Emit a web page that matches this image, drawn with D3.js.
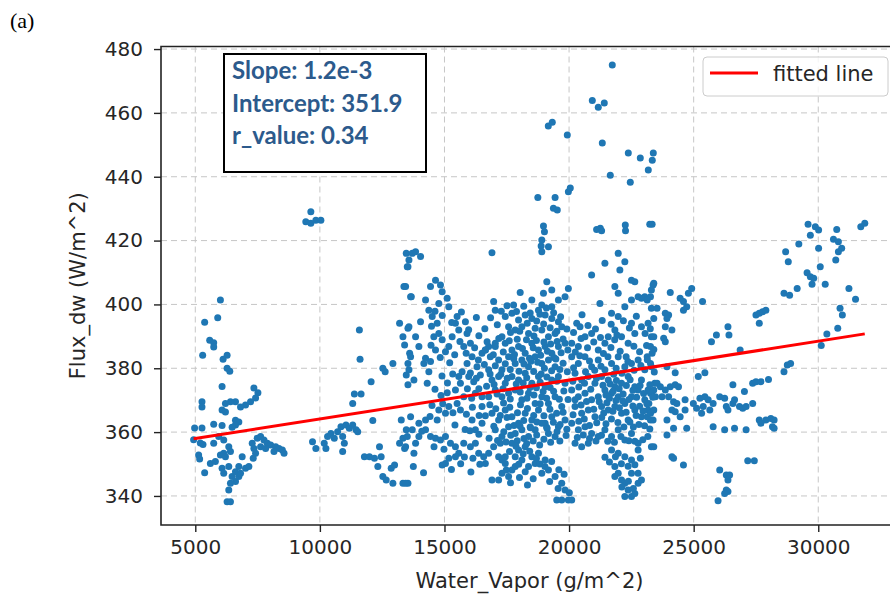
<!DOCTYPE html>
<html lang="en">
<head>
<meta charset="utf-8">
<title>Flux_dw vs Water_Vapor</title>
<script src="https://cdn.jsdelivr.net/npm/d3@7"></script>
<style>
  body { margin: 0; background: #fff; }
  text { font-family: "DejaVu Sans", sans-serif; }
</style>
</head>
<body>
<script>

// scatter points [water vapor, flux_dw], grouped by x range
var pointsLow = [
  [9637,429.0],[9435,425.9],[9637,425.4],[9839,426.4],[10040,426.4],
  [6008,401.4],[5900,395.8],[5376,394.4],[5578,388.8],[5739,388.0],[5739,386.7],[5296,384.1],[6277,384.1],[6115,382.8],[6277,380.0],[6384,379.1],[6075,374.3],
  [7352,373.8],[7513,372.3],[7419,370.7],[7218,369.5],[7016,368.5],[6815,367.9],[6613,369.5],[6411,369.5],[6210,369.0],[5269,369.5],[5269,367.9],[6075,366.9],[6210,366.3],
  [6613,363.7],[6747,363.2],[6613,362.2],[6478,361.5],[4973,361.3],[5269,361.3],[5739,362.5],[6075,362.1],[4933,357.6],[5202,356.6],[5309,356.1],[5134,352.8],[5175,351.6],[5376,347.3],
  [5605,350.2],[5806,350.8],[6008,352.8],[6142,353.4],[6344,355.4],[6411,353.9],[6210,352.3],[6075,348.7],[6142,347.1],[6344,349.2],[6478,346.1],[6613,344.5],[6411,344.0],
  [6344,341.9],[6277,338.2],[6411,338.2],[6747,349.2],[6882,352.3],[6747,346.1],[6613,347.6],[7016,348.7],[7150,349.2],[6815,347.1],
  [7285,356.5],[7486,358.1],[7621,358.6],[7755,357.5],[7890,356.5],[8024,356.0],[8226,355.4],[8360,354.9],[8494,354.4],[8562,353.4],[7352,354.9],[7621,355.4],[7822,354.9],
  [8158,353.9],[7419,353.4],[7325,351.8],[5739,356.5],[5940,358.6],[6142,357.5],
  [9704,357.0],[9838,354.9],[10174,356.5],[10309,358.6],[10443,359.6],[10578,358.1],[10712,360.1],[10846,361.7],[11048,362.2],[11182,361.2],[11317,362.2],[11451,360.7],
  [10914,358.6],[10981,356.5],[10914,353.9],[10242,354.9],
  [11585,392.0],[11612,382.8],[11384,371.9],[11653,371.9],[11317,369.0],[11518,360.1],[12056,375.8],[12526,380.0],[12930,381.5],[12620,378.9],[12123,363.6],
  [11787,352.3],[11989,352.3],[12190,351.8],[12392,355.4],[12459,352.3],[12325,349.2],[12526,346.1],[12661,345.0],[12862,348.7],[12997,349.7],[12930,344.0],[13333,344.0],[13534,344.0]
];

var pointsMid = [
  [13198,394.1],[13467,416.0],[13534,411.8],[13373,405.6],[13669,402.4],[13534,392.5],[13333,389.9],[13400,387.3],[13602,384.7],[13534,381.5],[13467,377.9],[13534,374.8],
  [13266,363.8],[13467,360.7],[13333,358.1],[13198,356.5],[13400,354.9],
  [18746,433.5],[19439,433.5],[19972,435.3],[19372,430.1],[18972,424.6],[19012,422.8],[18906,420.2],[18879,418.3],[18906,416.5],[19172,418.1],[16906,416.2],
  [13707,416.0],[13840,416.5],[14040,415.0],[13574,413.9],[13507,411.8],[13440,405.6],
  [19166,455.9],[19326,457.1],[19929,453.1],[19527,429.6],
  [13640,402.4],[14040,394.6],[13574,393.0],[13840,389.9],[13973,386.8],[13640,383.6],[13574,379.5],[13774,376.3],[14240,383.1],[14440,382.1],[14373,378.9],[14173,381.5],
  [14307,375.3],[14640,385.7],[14573,389.9],[14707,394.1],[14773,390.9],[14507,396.2],[14373,398.2],[14240,401.4],[14440,405.6],[14640,407.6],[14840,406.1],[14907,404.0],
  [14773,400.3],[15173,399.3],[15107,401.9],
  [15507,396.2],[15440,394.1],[15840,394.6],[15573,392.0],[15906,390.9],[16040,387.8],[15773,386.8],[15173,386.8],[15040,385.2],[15307,389.9],[14907,388.9],[16106,383.6],
  [15906,381.5],[15707,378.9],[15573,377.4],[15640,375.3],[15440,373.2],[15973,377.4],[16306,380.5],[16506,384.7],[16640,385.7],[16773,386.8],[17039,387.8],[16840,383.6],
  [16440,377.9],[16173,375.8],[16240,372.2],[16506,371.1],[15773,371.1],[15507,369.0],[15173,368.0],[15040,365.9],[14773,366.9],[14707,363.8],[14240,363.8],[13973,362.8],
  [13640,364.8],[13707,360.7],[13973,358.6],[13507,358.6],
  [14240,360.7],[14440,358.6],[14640,358.1],[14840,357.5],[15040,358.6],[15240,356.5],[15440,355.4],[15573,353.4],[15773,356.5],[16040,355.4],[16240,356.5],[16373,353.4],
  [16573,352.3],[16773,353.4],[16973,355.4],[16640,350.2],[15040,350.2],[14907,349.7],[15173,351.8],[15440,352.3],[13440,355.4],[13774,353.4],[13440,344.0],[16906,345.0],
  [17173,345.0],[17306,347.1],[17573,346.1],[17706,348.1],[17839,349.2],[17439,350.2],[17306,351.3],[17173,352.3],[13840,356.5],
  [18039,403.7],[18506,401.4],[18972,403.5],[19306,404.5],[19572,401.4],[19106,407.1],[19972,405.0],[19839,402.4],[16973,400.9],[17773,399.8],[18906,399.8],[19306,399.3],
  [17039,398.2],[17439,396.2],[17706,397.2],[17973,395.1],[18239,396.7],[18506,395.6],[18772,398.2],[19039,396.7],[19306,395.6],[19572,394.6],[17573,393.0],[17839,392.0],
  [18106,393.0],[18373,390.9],[18639,392.5],[18906,392.0],[19172,389.9],[19439,390.9],[19706,393.0],[17306,389.9],
  [16640,385.7],[17039,386.8],[17439,387.8],[17706,385.7],[17973,386.8],[18239,384.7],[18506,387.8],[18772,385.7],[19039,386.8],[19306,384.7],[19572,386.8],[19839,387.8],
  [17173,382.6],[17573,383.6],[17839,381.5],[18106,382.6],[18373,380.5],[18639,383.6],[18906,381.5],[19172,382.6],[19439,380.5],[16773,379.5],[17306,379.5],
  [16906,376.3],[17173,377.4],[17439,375.3],[17706,377.4],[17973,376.3],[18239,378.4],[18506,375.3],[18772,377.4],[19039,374.2],[19306,376.3],[19572,377.4],[19839,375.3],
  [17039,373.2],[17306,371.1],[17573,372.2],[17839,373.2],[18106,370.1],[18373,372.2],[18639,369.0],[18906,371.1],[19172,369.0],[19439,371.1],[19706,368.0],[16773,371.1],[16506,368.0],
  [16906,365.9],[17173,363.8],[17439,366.9],[17706,364.8],[17973,362.8],[18239,365.9],[18506,363.8],[18772,366.9],[19039,362.8],[19306,364.8],[19572,361.7],[19839,363.8],
  [17039,360.7],[17306,358.6],[17573,361.7],[17839,359.6],[18106,360.7],[18373,358.6],[18639,360.7],[18906,362.8],[19172,359.6],[19439,358.6],[16506,362.8],[16106,363.8],[16240,360.7],
  [17706,356.5],[17973,354.4],[18239,355.4],[18506,352.3],[18772,353.4],[18106,351.3],[17839,352.3],[18373,349.2],[18639,350.2],[18906,347.1],[19172,348.1],[19439,346.1],
  [19706,344.0],[19839,341.9],[19972,338.7],[19506,338.7],[19706,338.7],[19039,351.3],[17439,352.3],[17240,356.5]
];

// extra points filling the dense middle cloud
var pointsMidDense = [
  [16620,392.4],[16850,395.8],[17120,393.6],[17280,397.9],[17510,399.6],[17650,391.2],[17890,397.8],[18020,391.6],[18180,399.4],[18320,394.1],[18440,397.3],[18590,390.1],
  [18700,394.8],[18830,396.9],[18980,393.9],[19090,398.9],[19240,392.7],[19380,397.4],[19510,391.6],[19660,396.1],[19760,389.2],[19910,392.3],
  [16710,388.3],[16960,384.2],[17180,389.3],[17360,385.1],[17600,388.6],[17810,384.3],[17920,389.1],[18130,386.2],[18290,388.9],[18410,383.1],[18560,386.4],[18690,388.7],
  [18860,384.1],[18990,388.2],[19130,385.3],[19260,387.6],[19390,383.4],[19520,388.4],[19680,384.9],[19950,385.7],
  [16600,381.2],[16830,378.2],[17040,380.8],[17260,378.1],[17440,381.4],[17640,379.6],[17780,383.0],[17990,379.1],[18190,381.3],[18300,377.0],[18470,382.2],[18580,379.0],
  [18740,381.9],[18880,378.2],[19010,380.0],[19110,377.3],[19300,379.2],[19470,382.9],[19630,379.6],[19760,381.6],[19930,378.9],
  [16690,374.4],[16990,374.9],[17110,371.9],[17350,373.6],[17520,376.9],[17640,370.4],[17880,375.1],[18040,372.6],[18160,375.4],[18310,370.6],[18430,374.0],[18590,371.6],
  [18690,373.9],[18840,375.6],[18960,372.7],[19100,370.6],[19240,374.0],[19380,372.8],[19510,375.9],[19610,370.3],[19790,372.9],[19960,370.2],
  [16640,365.1],[16820,368.6],[17060,367.3],[17240,365.2],[17370,369.1],[17510,364.6],[17620,367.8],[17790,362.1],[17930,366.1],[18050,368.6],[18180,363.6],[18330,367.4],
  [18440,361.6],[18580,365.2],[18710,363.2],[18840,368.9],[18990,365.1],[19100,361.5],[19230,367.2],[19370,363.1],[19500,365.9],[19640,362.4],[19760,366.2],[19910,360.9],
  [16790,358.1],[16980,361.8],[17130,357.4],[17380,360.1],[17470,356.9],[17660,359.0],[17920,357.3],[18030,361.9],[18190,358.0],[18300,356.4],[18450,361.4],[18560,357.2],
  [18700,359.1],[18820,356.0],[18990,357.8],[19120,361.1],[19260,356.8],[19520,360.2],[19630,357.2],[19880,358.9],
  [17610,353.9],[17870,355.6],[18160,353.2],[18420,354.0],[18690,351.7],[18830,350.0],[19030,349.2],[19300,350.8],[19590,348.2],[19800,346.8],[17480,348.1],[17980,349.9],
  [18240,347.6],[18560,345.4],[17650,344.1],[18010,345.8],[18330,343.4],[19220,344.5],[19560,342.3],[20010,341.0],
  [14480,393.2],[14620,397.9],[14910,396.5],[15290,394.3],[15680,397.6],[15970,392.1],[16280,395.9],[16380,390.2],[14460,387.2],[14830,383.4],[15210,381.7],[15410,384.2],
  [15620,388.4],[15870,384.7],[16210,386.4],[16360,382.6],[14900,377.6],[15120,375.4],[15330,378.2],[16040,378.5],[16280,376.9],[14620,373.4],[14860,371.5],[15110,372.3],
  [15920,373.6],[16090,370.6],[16380,373.6],[14500,368.3],[14930,368.9],[15340,366.1],[15640,366.9],[15880,365.6],[16120,367.8],[16390,365.2],[14420,364.9],[15420,362.2],
  [15830,360.8],[16020,360.4],[16380,359.3],[14090,360.3],[14580,355.4],[14980,354.6],[15800,352.2],[16140,351.8],[16420,349.9],[13750,349.2],[14160,347.3],[15280,348.3],
  [15650,350.1],[16060,347.5]
];

var pointsHigh = [
  [20106,338.7],
  [20306,394.1],[20439,393.0],[20106,387.8],[20372,386.8],[20639,389.9],[20905,390.9],[21172,385.7],[21438,387.8],[21572,389.9],[21838,392.0],[22105,389.9],[22371,387.8],
  [22638,390.9],[22905,393.0],[23171,394.1],[23304,389.9],[21972,396.2],[21705,397.2],[22238,399.3],[22505,401.4],[22771,402.4],[23038,402.4],[23304,404.5],[21238,400.3],
  [21972,403.5],[21838,405.6],[20905,409.2],[21438,412.9],[21972,416.0],[22238,413.4],[22038,410.8],[22505,407.6],[22638,407.1],[23371,406.1],[22905,401.9],[23304,398.8],[22505,394.1],
  [20106,383.6],[20372,381.5],[20639,383.6],[20905,380.5],[21172,382.6],[21438,379.5],[21705,381.5],[21972,383.6],[22238,380.5],[22505,381.5],[22771,382.6],[23038,379.5],[23304,380.5],
  [20239,378.4],[20506,376.3],[20772,377.4],[21038,375.3],[21305,377.4],[21572,376.3],[21838,374.2],[22105,375.3],[22371,377.4],[22638,374.2],[22905,376.3],[23171,373.2],[23438,375.3],
  [20106,373.2],[20372,371.1],[20639,372.2],[20905,370.1],[21172,371.1],[21438,373.2],[21705,372.2],[21972,371.1],[22238,369.0],[22505,371.1],[22771,373.2],[23038,370.1],[23304,372.2],
  [20239,368.0],[20506,365.9],[20772,366.9],[21038,364.8],[21305,368.0],[21572,366.9],[21838,368.0],[22105,365.9],[22371,363.8],[22638,366.9],[22905,364.8],[23171,366.9],[23371,363.8],
  [20106,362.8],[20372,360.7],[20639,361.7],[20905,359.6],[21172,358.6],[21438,360.7],[21705,358.6],[21972,360.7],[22238,357.5],[22505,359.6],[22771,356.5],[23304,355.4],
  [20239,356.5],[20506,355.4],[20772,356.5],[21705,354.4],[21972,353.4],[22238,352.3],[22505,351.3],[22771,354.4],
  [21838,349.2],[21972,347.1],[22105,345.0],[22238,344.0],[22371,341.9],[22505,339.8],[22638,340.8],[22771,344.0],[22905,345.0],[22238,339.8],[21838,346.1],[22505,347.1],[22771,347.1],
  [20932,463.9],[21172,461.8],[21413,463.1],[21734,475.0],[21333,450.6],[22377,447.4],[22858,445.9],[23380,447.4],[23339,445.2],[22457,438.3],[23179,442.1],[21654,440.5],
  [20049,436.5],[21253,423.9],[22256,424.9],[21105,423.5],[21305,423.1],[22265,423.1],[23238,425.1],
  [23333,425.1],[23399,406.6],[23267,402.4],[23135,401.4],[24061,403.7],[24458,401.9],[24590,400.9],[24788,403.5],[24921,405.0],[24722,399.3],[24590,398.2],
  [23531,398.8],[23399,395.6],[23862,397.2],[23995,396.7],[23928,395.6],[23862,393.0],[24127,392.0],[23399,389.9],[23267,386.8],[23796,389.4],[23862,388.3],[23333,384.7],
  [23135,383.6],[23267,381.5],[24259,378.6],[23928,380.5],
  [23531,375.3],[23664,374.2],[23862,373.2],[24061,374.2],[24259,374.8],[24392,374.2],[23399,373.2],[23267,372.2],[23201,369.0],[23465,371.1],[23730,371.1],[23995,371.1],
  [24193,369.5],[24325,369.0],[24127,366.9],[24259,366.4],[24458,364.8],[24656,370.1],[24656,366.9],[23399,366.9],[23267,363.8],[23135,364.8],[23928,363.8],[24193,361.2],
  [23928,359.1],[24722,361.2],[23399,355.4],[24127,352.3],[24193,351.8],[24590,349.7],[24987,369.0]
];

// extra points filling the dense cloud right of 20000
var pointsHighDense = [
  [20180,391.2],[20520,396.8],[20760,393.4],[21060,392.3],[21330,395.0],[21690,393.8],[21920,390.4],[22180,394.9],[22420,392.6],[22700,396.3],[23050,390.9],[23260,392.4],
  [20250,385.1],[20480,389.3],[20740,386.4],[20990,388.2],[21260,389.6],[21380,384.6],[21680,386.5],[21830,388.9],[22050,385.3],[22290,383.6],[22600,386.9],[22830,385.2],
  [23110,387.1],[23400,385.9],
  [20180,380.2],[20430,383.9],[20660,378.9],[20820,382.3],[21030,379.4],[21280,380.6],[21560,383.6],[21790,378.1],[21890,380.0],[22120,378.4],[22360,382.1],[22610,379.4],
  [22880,380.9],[23140,382.7],[23420,378.8],
  [20150,375.9],[20390,374.1],[20620,375.3],[20870,373.4],[21100,376.9],[21360,374.7],[21480,371.6],[21650,375.1],[21770,372.9],[21900,376.2],[22010,373.6],[22170,371.9],
  [22300,374.6],[22450,376.4],[22560,373.1],[22710,370.9],[22850,374.6],[22990,372.1],[23240,374.8],[23360,370.9],
  [20240,370.1],[20480,368.5],[20700,369.6],[20990,367.2],[21210,369.5],[21390,366.0],[21520,369.2],[21620,370.6],[21760,366.5],[21880,369.9],[22020,367.6],[22150,369.8],
  [22290,366.2],[22400,370.2],[22560,368.2],[22690,365.2],[22830,368.1],[22970,366.6],[23120,368.9],[23270,365.9],
  [20160,365.4],[20390,363.4],[20610,364.1],[20820,362.1],[21110,362.9],[21310,364.6],[21480,362.6],[21700,364.1],[21960,363.0],[22200,361.6],[22440,363.2],[22580,361.6],
  [22800,362.4],[23030,362.0],[23240,361.0],
  [20330,358.3],[20570,359.1],[20820,358.0],[21080,357.2],[21300,359.0],[21550,357.1],[21820,356.8],[22080,358.6],[22400,357.3],[22640,357.1],[22960,357.6],[23160,358.6],
  [21440,352.1],[21620,350.6],[21860,352.3],[22100,350.1],[22370,349.3],[22640,349.8],[22860,351.8],[22120,342.8],[22380,344.6],[22580,342.3]
];

var pointsFar = [
  [25357,400.9],[25185,377.4],[25450,378.6],
  [25251,370.6],[25450,371.1],[25582,370.1],[25384,368.0],[25648,366.9],[25781,369.0],[26045,371.1],[26244,370.6],[26310,368.0],[26376,366.9],[26574,369.0],[26641,370.1],
  [26839,368.0],[26971,367.5],[27104,368.0],[27368,369.0],[25119,367.5],[25318,365.9],[25781,361.7],[26244,360.7],[26641,361.2],[27104,360.7],[26574,374.8],[27037,372.7],
  [27368,375.3],[27500,375.8],[27699,375.8],[28003,376.5],[27633,363.8],[27897,363.8],[28096,364.3],[28228,363.8],[27699,362.8],[28162,361.7],[28228,361.2],
  [25714,388.3],[25913,390.4],[26376,393.0],[26416,390.4],[26865,385.7],
  [27500,396.7],[27633,397.2],[27765,397.7],[27897,398.2],[27633,394.1],
  [27170,351.0],[27434,351.0],
  [26045,348.1],[26310,346.6],[26442,346.6],[26376,345.0],[26310,341.9],[26376,341.4],[26244,340.8],[25979,338.5],
  [28625,378.9],[28757,381.0],[28890,381.5],[28691,416.5],[28797,413.4],[28625,403.5],[28850,402.9],[29154,405.0],[29220,418.9],[29591,425.1],[29683,421.7],[29882,424.3],
  [30014,423.3],[30014,417.6],[30080,411.8],[29551,409.9],[29683,408.7],[29816,408.2],[29750,406.3],[30279,406.3],[30742,423.5],[30610,420.4],[30808,419.6],[30940,417.6],
  [30808,416.5],[30702,413.9],[31231,405.0],[31496,401.6],[31707,424.3],[31866,425.4],[30874,398.8],[30967,396.7],[30782,392.5],[30345,390.7],[30120,387.1]
];

var xTicks = [5000, 10000, 15000, 20000, 25000, 30000];
var yTicks = [340, 360, 380, 400, 420, 440, 460, 480];
var fitSlope = 1.22e-3;
var fitIntercept = 351.9;
var statLines = ["Slope: 1.2e-3", "Intercept: 351.9", "r_value: 0.34"];

var points = pointsLow.concat(pointsMid, pointsMidDense, pointsHigh, pointsHighDense, pointsFar);

var w = 890, h = 599;
var plot = {left: 161, right: 898, top: 46.5, bottom: 525};

var svg = d3.select("body")
  .append("svg")
  .attr("width", w)
  .attr("height", h);

var xScale = d3.scaleLinear()
  .domain([3624, 33200])
  .range([plot.left, plot.right]);

var yScale = d3.scaleLinear()
  .domain([330.9, 480.8])
  .range([plot.bottom, plot.top]);

svg.append("clipPath")
  .attr("id", "plotclip")
  .append("rect")
  .attr("x", plot.left)
  .attr("y", plot.top)
  .attr("width", plot.right - plot.left)
  .attr("height", plot.bottom - plot.top);

// grid
svg.append("g")
  .selectAll("line")
  .data(xTicks)
  .enter()
  .append("line")
  .attr("x1", function(d) { return xScale(d); })
  .attr("x2", function(d) { return xScale(d); })
  .attr("y1", plot.top)
  .attr("y2", plot.bottom)
  .attr("stroke", "#c6c6c6")
  .attr("stroke-width", 1)
  .attr("stroke-dasharray", "6,4");

svg.append("g")
  .selectAll("line")
  .data(yTicks)
  .enter()
  .append("line")
  .attr("x1", plot.left)
  .attr("x2", plot.right)
  .attr("y1", function(d) { return yScale(d); })
  .attr("y2", function(d) { return yScale(d); })
  .attr("stroke", "#c6c6c6")
  .attr("stroke-width", 1)
  .attr("stroke-dasharray", "6,4");

// points
svg.append("g")
  .attr("clip-path", "url(#plotclip)")
  .selectAll("circle")
  .data(points)
  .enter()
  .append("circle")
  .attr("cx", function(d) { return xScale(d[0]); })
  .attr("cy", function(d) { return yScale(d[1]); })
  .attr("r", 3.5)
  .attr("fill", "#1f77b4");

// fitted line
var xExtent = d3.extent(points, function(d) { return d[0]; });
svg.append("line")
  .attr("x1", xScale(xExtent[0]))
  .attr("y1", yScale(fitIntercept + fitSlope * xExtent[0]))
  .attr("x2", xScale(xExtent[1]))
  .attr("y2", yScale(fitIntercept + fitSlope * xExtent[1]))
  .attr("stroke", "red")
  .attr("stroke-width", 3);

// axes
var xAxis = d3.axisBottom(xScale)
  .tickValues(xTicks)
  .tickSize(7)
  .tickPadding(8)
  .tickFormat(d3.format("d"));

var yAxis = d3.axisLeft(yScale)
  .tickValues(yTicks)
  .tickSize(7)
  .tickPadding(11);

svg.append("g")
  .attr("class", "x axis")
  .attr("transform", "translate(0," + plot.bottom + ")")
  .call(xAxis);

svg.append("g")
  .attr("class", "y axis")
  .attr("transform", "translate(" + plot.left + ",0)")
  .call(yAxis);

svg.selectAll(".axis .domain").remove();
svg.selectAll(".axis line").attr("stroke", "#222").attr("stroke-width", 1.4);
svg.selectAll(".axis text")
  .attr("font-family", "DejaVu Sans")
  .attr("font-size", "20px")
  .attr("fill", "#262626");

// spines
svg.append("path")
  .attr("d", "M" + plot.right + "," + plot.top + "H" + plot.left + "V" + plot.bottom + "H" + plot.right)
  .attr("fill", "none")
  .attr("stroke", "#222")
  .attr("stroke-width", 1.6);

// axis labels
svg.append("text")
  .attr("x", (plot.left + plot.right) / 2)
  .attr("y", 588)
  .style("text-anchor", "middle")
  .attr("font-size", "21px")
  .attr("fill", "#262626")
  .text("Water_Vapor (g/m^2)");

svg.append("text")
  .attr("transform", "translate(85," + (plot.top + plot.bottom) / 2 + ") rotate(-90)")
  .style("text-anchor", "middle")
  .attr("font-size", "21px")
  .attr("fill", "#262626")
  .text("Flux_dw (W/m^2)");

// legend
var legend = svg.append("g");
legend.append("rect")
  .attr("x", 703)
  .attr("y", 57)
  .attr("width", 185)
  .attr("height", 39)
  .attr("rx", 4)
  .attr("fill", "#fff")
  .attr("fill-opacity", 0.8)
  .attr("stroke", "#cccccc")
  .attr("stroke-width", 1);
legend.append("line")
  .attr("x1", 710)
  .attr("x2", 758)
  .attr("y1", 73)
  .attr("y2", 73)
  .attr("stroke", "red")
  .attr("stroke-width", 3);
legend.append("text")
  .attr("x", 773)
  .attr("y", 80.5)
  .attr("font-size", "21px")
  .attr("fill", "#262626")
  .text("fitted line");

// stats box
svg.append("rect")
  .attr("x", 224)
  .attr("y", 54)
  .attr("width", 202)
  .attr("height", 118)
  .attr("fill", "#fff")
  .attr("stroke", "#000")
  .attr("stroke-width", 2);

svg.selectAll(".stat")
  .data(statLines)
  .enter()
  .append("text")
  .attr("class", "stat")
  .attr("x", 232)
  .attr("y", function(d, i) { return 79 + i * 32.5; })
  .style("font-family", "Lato, 'Open Sans', sans-serif")
  .style("font-weight", "bold")
  .attr("font-size", "24px")
  .attr("fill", "#2c5a8c")
  .text(function(d) { return d; });

// panel tag
svg.append("text")
  .attr("x", 10)
  .attr("y", 28)
  .style("font-family", "'Liberation Serif', serif")
  .attr("font-size", "22px")
  .attr("fill", "#000")
  .text("(a)");

</script>
</body>
</html>
